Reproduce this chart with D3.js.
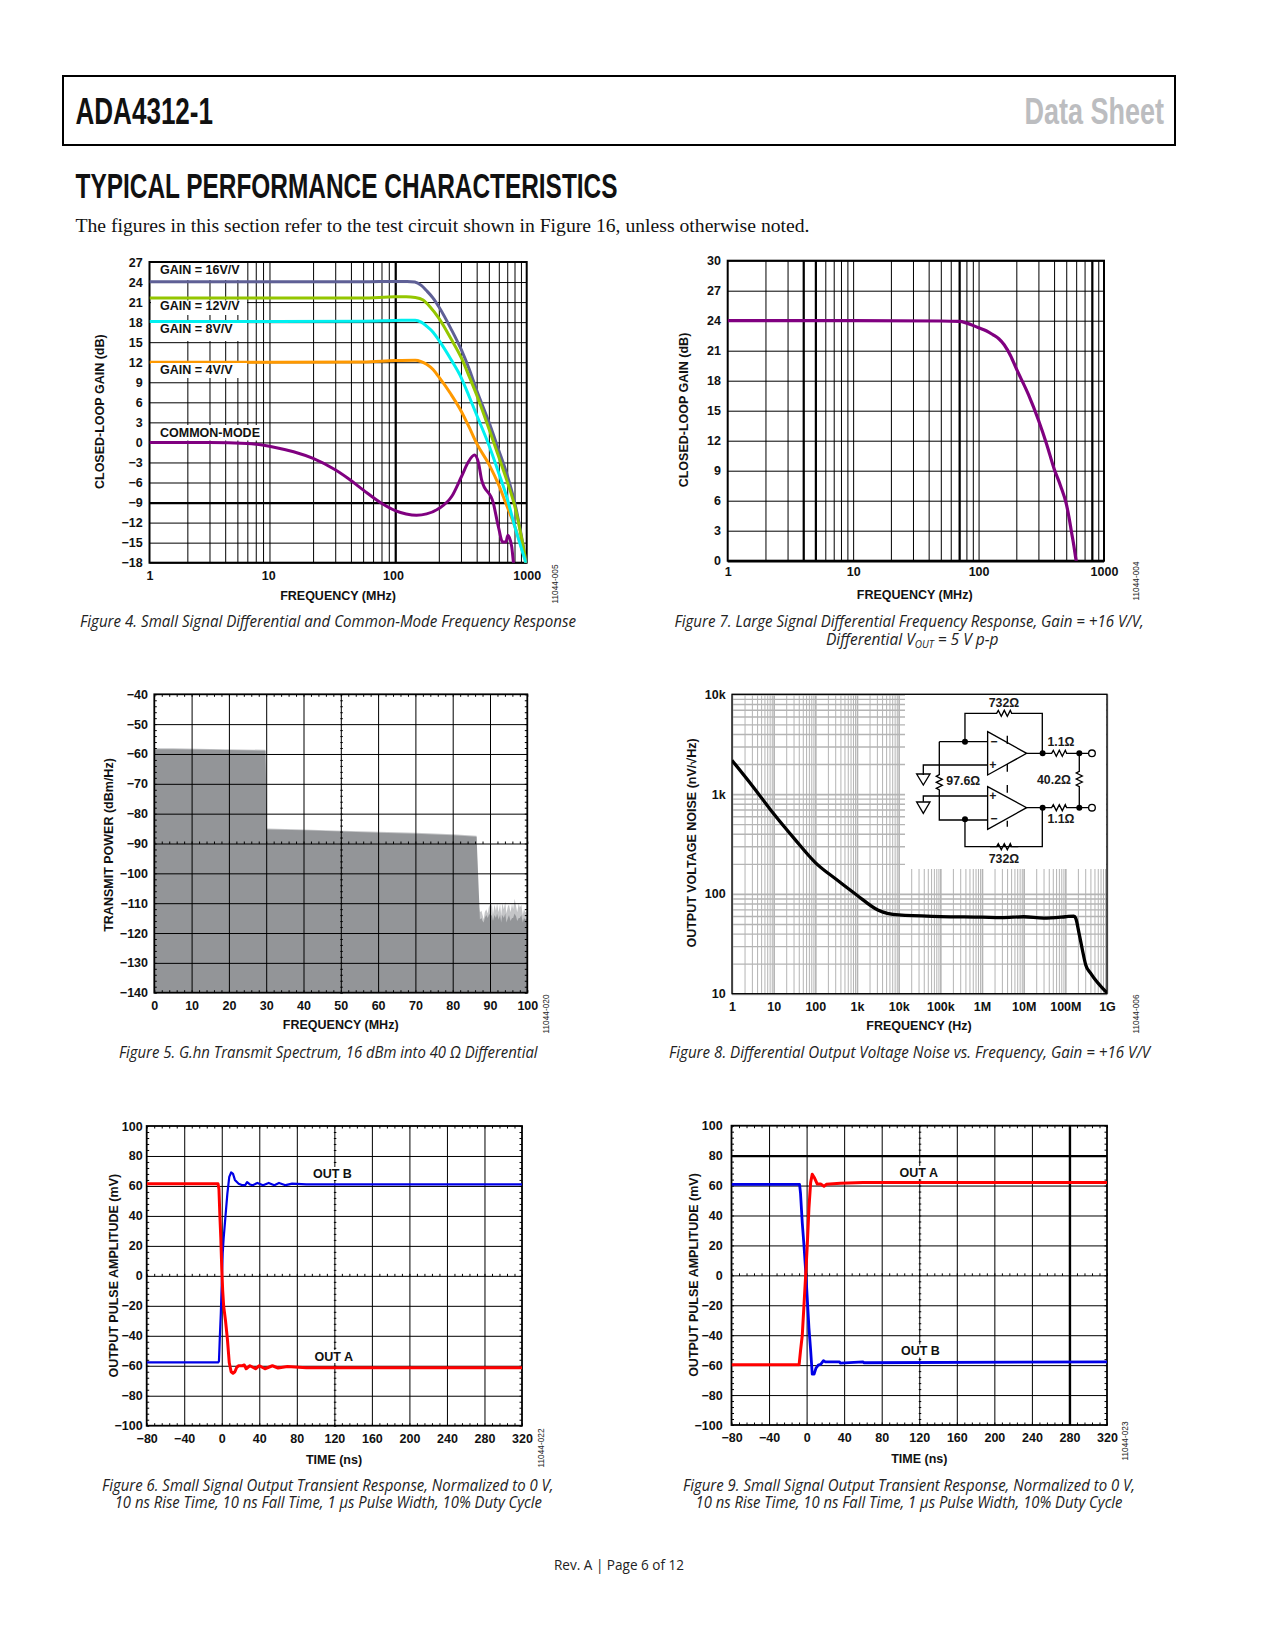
<!DOCTYPE html>
<html><head><meta charset="utf-8">
<script src="https://cdn.jsdelivr.net/npm/d3@7/dist/d3.min.js"></script>
<style>html,body{margin:0;background:#fff}svg{display:block}
.tk text,.lbl{font-size:12.5px;font-weight:700;fill:#111;font-family:"Liberation Sans",Arial,sans-serif}
.hd{font-family:"Liberation Sans",Arial,sans-serif;font-weight:700}
.body{font-family:"Liberation Serif",serif;font-size:18.5px;fill:#111}
.foot{font-family:"Open Sans",sans-serif;font-size:14px;fill:#222}
.id,.ckt{font-family:"Liberation Sans",Arial,sans-serif}
.cap{font-family:"Open Sans",sans-serif;font-style:italic;font-size:15.5px;fill:#222}
</style></head><body><svg id="p" width="1275" height="1650"></svg>
<script>
// ---------- Figure 4 data ----------
const fig4Freq16=[1,10,50,90,112,129,145,160,180,200,250,303,350,400,505,600,692,805,1000];
const fig4Gain16=[24.05,24.05,24.05,24.1,24.1,24.0,23.5,22.7,21.6,20.3,17,13.8,10.9,7.8,2.85,-1.2,-4.6,-9.1,-18.4];
const fig4Freq12=[1,10,50,90,110,130,150,170,200,250,303,350,400,505,600,692,805,1000];
const fig4Gain12=[21.6,21.6,21.6,21.8,21.8,21.7,21.3,20.3,18.6,15.5,12.6,9.8,7.1,1.85,-2.2,-5.6,-9.6,-18.4];
const fig4Freq8=[1,10,50,90,130,145,160,180,200,250,303,350,400,505,600,692,805,1000];
const fig4Gain8=[18.1,18.1,18.15,18.25,18.3,18,17.4,16.5,15.3,12.4,9.6,6.8,4.1,-0.6,-4.6,-8.1,-12.6,-18.4];
const fig4Freq4=[1,10,50,90,130,145,160,180,200,250,303,350,400,505,600,692,805,1000];
const fig4Gain4=[12,12,12.05,12.25,12.3,12.1,11.7,10.9,9.8,7.2,4.6,2.2,-0.15,-3.4,-6.4,-9.4,-12.6,-18.4];
const fig4FreqCM=[1,3,6,10,14,20,30,40,50,70,90,110,133,160,200,253,303,344,384,414,438,543,595,644,684,708,760,785,800];
const fig4GainCM=[0,0,-0.15,-0.75,-1.4,-2.4,-4.1,-5.7,-7.1,-9.1,-10.2,-10.7,-10.9,-10.7,-9.9,-8.1,-5.1,-2.9,-1.9,-3.1,-5.6,-9.1,-12.6,-14.9,-14.9,-13.9,-15.6,-18,-19];
const fig4GridX=[2,3,4,5,6,7,8,9,20,30,40,50,60,70,80,90,200,300,400,500,600,700,800,900];
// ---------- Figure 7 data ----------
const fig7Freq=[1,10,50,70,100,115,130,145,160,180,200,250,300,350,400,450,500,525,550,575,600,610];
const fig7Gain=[24,24,23.97,23.93,23.3,23.0,22.6,22.2,21.6,20.5,19.2,16.6,14.07,11.6,9.2,7.5,5.7,4.4,2.9,1.5,0,-0.4];
// ---------- Figure 5 data ----------
const fig5Freq=[0,0.3,5,15,29.8,30.2,40,50,60,70,80,86.4,86.7,87];
const fig5Peak=[-58.4,-58.1,-58.1,-58.3,-58.6,-85,-85.3,-85.7,-86.1,-86.4,-86.9,-87.4,-105,-111];
const fig5NoiseFreq=[87.3,87.7,88,88.3,88.6,89,89.4,89.8,90.1,90.5,90.8,91.2,91.6,91.9,92.3,92.7,93,93.3,93.7,94.1,94.4,94.8,95.1,95.5,95.9,96.2,96.6,97,97.3,97.7,98,98.4,98.8,99.1,99.5,100];
const fig5NoisePeak=[-113,-112.5,-114,-115.5,-113,-112,-113.5,-110.5,-112,-110,-114,-110.5,-112.5,-110,-113,-110.3,-114,-110,-112,-109.5,-113.5,-111,-110.5,-113,-110.2,-112,-108.5,-111,-113,-110,-111.5,-110.5,-114,-112,-113,-112.5];
const fig5NoiseBody=[-115.5,-115,-116,-116.5,-115,-114,-115,-113.5,-114.5,-114,-116,-114,-115,-113.5,-115.5,-114,-116.5,-114,-115,-113.5,-116.5,-115,-114,-116,-115,-115,-113.5,-114.5,-116,-115,-115,-114,-116.5,-115,-115.5,-115];
// ---------- Figure 8 data ----------
const fig8Freq=[1,3.16,10,31.6,100,316,1e3,3.16e3,1e4,1e5,1e6,3e6,1e7,3e7,1e8,1.6e8,1.78e8,2.14e8,2.57e8,3.09e8,4.07e8,1e9];
const fig8Noise=[2178,1194,635,356,206,140,97,69,61.5,59.3,58.4,57.8,59,57.2,59,60,57,40,27.4,19.4,16,10.2];
const fig8TickX=[1,10,100,1e3,1e4,1e5,1e6,1e7,1e8,1e9];
const fig8TickXLabels=["1","10","100","1k","10k","100k","1M","10M","100M","1G"];
// ---------- Figure 6 data ----------
const fig6TimeB=[-80,-4,-3,-2,-1,0,1,2,4,6,8,10,12,14,18,22,25,27,30,33,38,44,50,56,61,68,75,90,320];
const fig6OutB=[-57.8,-57.8,-57,-40,-25,-5,15,25,40,55,66,69,68,64,61.5,60.5,60.5,62.5,61,60.5,62,60.5,62,60.5,62,60.5,61.5,61,61];
const fig6TimeA=[-80,-4,-3,-2,-1,0,1,2,4,6,8,10,12,14,16,18,22,24,26,30,36,40,46,50,54,60,70,90,320];
const fig6OutA=[61.5,61.5,58,40,25,5,-10,-20,-30,-42,-58,-64,-65,-64,-61,-60,-60,-59.5,-62,-60,-62,-60,-62,-61,-60,-61.5,-60.5,-61.3,-61.3];
// ---------- Figure 9 data ----------
const fig9TimeB=[-80,-7.5,-6.5,-4.6,-2.8,-0.7,2.5,4.3,6,8,10,12.4,15,18,20,35,36,60,61,320];
const fig9OutB=[60.8,60.8,55,35,20,0,-35,-50,-66,-66,-62,-60,-59.5,-57,-57.8,-57.8,-58.6,-57.8,-58.4,-57.8];
const fig9TimeA=[-80,-8,-6.4,-4.6,-2.8,-1,0.7,2.5,4.3,6,8.5,11.4,15,18.5,21,36,60,320];
const fig9OutA=[-59.8,-59.8,-50,-40,-20,0,20,45,62,67.5,65,61,61,59.5,60.8,61.5,62,62];
// ---------- tick lists ----------
const logTicks1000=[1,10,100,1000];
const fig4TicksY=d3.range(-18,28,3), fig7TicksY=d3.range(0,31,3);
const fig5TicksX=d3.range(0,101,10), fig5TicksY=d3.range(-140,-39,10);
const pulseTicksX=d3.range(-80,321,40), pulseTicksY=d3.range(-100,101,20);
const fig8TicksY=[10,100,1000,10000], fig8LabelsY=["10","100","1k","10k"];

const svg=d3.select("#p");
const minus=v=>v<0?"\u2212"+Math.abs(v):String(v);
const series=(a,b)=>a.map((v,i)=>[v,b[i]]);
let clipN=0;

function panel(f){
  const w=f.r-f.l,h=f.b-f.t;
  const g=svg.append("g").attr("transform",`translate(${f.l},${f.t})`);
  const x=f.xs.range([0,w]),y=f.ys.range([h,0]);
  return {g,x,y,w,h};
}
function gridX(P,vals,o={}){
  const s=P.g.append("g").attr("transform",`translate(0,${P.h})`)
    .call(d3.axisBottom(P.x).tickValues(vals).tickSize(-P.h).tickFormat(""));
  s.select(".domain").remove(); s.selectAll("text").remove();
  s.selectAll("line").attr("stroke",o.c||"#000").attr("stroke-width",o.w||1);
  return s;
}
function gridY(P,vals,o={}){
  const s=P.g.append("g").call(d3.axisLeft(P.y).tickValues(vals).tickSize(-P.w).tickFormat(""));
  s.select(".domain").remove(); s.selectAll("text").remove();
  s.selectAll("line").attr("stroke",o.c||"#000").attr("stroke-width",o.w||1);
  return s;
}
function frame(P,w=2){P.g.append("rect").attr("width",P.w).attr("height",P.h).attr("fill","none").attr("stroke","#000").attr("stroke-width",w);}
function labelsX(P,vals,fmt,center,shift){
  const s=P.g.append("g").attr("class","tk").attr("transform",`translate(0,${P.h})`)
    .call(d3.axisBottom(P.x).tickValues(vals).tickSize(0).tickPadding(center-P.h-P.top-4.4).tickFormat(fmt));
  s.select(".domain").remove();
  if(shift) s.selectAll("text").attr("dx",d=>shift[d]||0);
}
function labelsY(P,vals,fmt,right){
  const s=P.g.append("g").attr("class","tk")
    .call(d3.axisLeft(P.y).tickValues(vals).tickSize(0).tickPadding(P.left-right).tickFormat(fmt));
  s.select(".domain").remove();
}
function titles(xt,xx,xy,yt,yx,yy,id,ix,iy){
  svg.append("text").attr("class","lbl").attr("x",xx).attr("y",xy+4.4).attr("text-anchor","middle").text(xt);
  svg.append("text").attr("class","lbl").attr("transform",`translate(${yx+4.4},${yy}) rotate(-90)`).attr("text-anchor","middle").text(yt);
  svg.append("text").attr("class","id").attr("transform",`translate(${ix+3},${iy}) rotate(-90)`).attr("text-anchor","middle").attr("font-size",8.3).attr("fill","#222").text(id);
}
function curve(P,data,color,width,cv){
  const id="c"+(++clipN);
  P.g.append("clipPath").attr("id",id).append("rect").attr("width",P.w).attr("height",P.h);
  P.g.append("path").attr("clip-path",`url(#${id})`).attr("d",d3.line().x(d=>P.x(d[0])).y(d=>P.y(d[1])).curve(cv||d3.curveMonotoneX)(data))
    .attr("fill","none").attr("stroke",color).attr("stroke-width",width).attr("stroke-linejoin","round");
}
function minorTicks(P,xv,yv,xc,yc,len){
  const mk=(gen,tr)=>{const s=P.g.append("g").attr("transform",tr).call(gen);s.select(".domain").remove();s.selectAll("text").remove();s.selectAll("line").attr("stroke","#000").attr("stroke-width",1);return s;};
  mk(d3.axisBottom(P.x).tickValues(xv).tickSize(-len).tickFormat(""),`translate(0,${P.h})`);
  mk(d3.axisTop(P.x).tickValues(xv).tickSize(-len).tickFormat(""),`translate(0,0)`);
  mk(d3.axisLeft(P.y).tickValues(yv).tickSize(-len).tickFormat(""),`translate(0,0)`);
  mk(d3.axisRight(P.y).tickValues(yv).tickSize(-len).tickFormat(""),`translate(${P.w},0)`);
  mk(d3.axisBottom(P.x).tickValues(xv).tickSize(len).tickFormat(""),`translate(0,${P.y(yc)-2})`);
  mk(d3.axisLeft(P.y).tickValues(yv).tickSize(len).tickFormat(""),`translate(${P.x(xc)+2},0)`);
}
function mk(f){const P=panel(f);P.top=0;P.left=0;return P;}
function plotLabel(t,x,y,w){
  if(w) svg.append("rect").attr("x",x-3).attr("y",y-6.5).attr("width",w).attr("height",13).attr("fill","#fff");
  svg.append("text").attr("class","lbl").attr("x",x).attr("y",y+4.4).text(t);
}
function txt(t,x,y,cls,o){const s=svg.append("text").attr("class",cls).attr("x",x).attr("y",y).text(t);for(const k in o)s.attr(k,o[k]);return s;}
function cap(t,x0,x1,y){svg.append("text").attr("class","cap").attr("x",x0).attr("y",y).attr("textLength",x1-x0).attr("lengthAdjust","spacingAndGlyphs").text(t);}

// ---------- page ----------
svg.append("rect").attr("x",63).attr("y",76).attr("width",1112).attr("height",69).attr("fill","none").attr("stroke","#000").attr("stroke-width",2);
txt("ADA4312-1",75.5,123.5,"hd",{"font-size":37,textLength:137.5,lengthAdjust:"spacingAndGlyphs",fill:"#111"});
txt("Data Sheet",1024.5,123.5,"hd",{"font-size":37,textLength:139.5,lengthAdjust:"spacingAndGlyphs",fill:"#bcbdc0"});
txt("TYPICAL PERFORMANCE CHARACTERISTICS",75.5,198,"hd",{"font-size":35,textLength:542,lengthAdjust:"spacingAndGlyphs",fill:"#111"});
txt("The figures in this section refer to the test circuit shown in Figure 16, unless otherwise noted.",75.5,232,"body",{textLength:734,lengthAdjust:"spacingAndGlyphs"});
txt("Rev. A | Page 6 of 12",554,1570,"foot",{textLength:130,lengthAdjust:"spacingAndGlyphs"});

// ---------- Figure 4 ----------
{
  const P=mk({l:149.5,r:526.7,t:262,b:562.7,xs:d3.scaleLog().domain([1,1000]),ys:d3.scaleLinear().domain([-18,27])});
  gridX(P,fig4GridX); gridX(P,[90],{w:2.2});
  gridY(P,fig4TicksY); gridY(P,[-9],{w:2.2});
  [[263,280,247],[300.5,315,247],[323,341,247],[363,378,247],[425,440.5,263]].forEach(([a,b,r])=>
    svg.append("rect").attr("x",151).attr("y",a).attr("width",r-151).attr("height",b-a).attr("fill","#fff"));
  frame(P);
  curve(P,series(fig4Freq4,fig4Gain4),"#ff9900",3);
  curve(P,series(fig4Freq16,fig4Gain16),"#5f6096",3);
  curve(P,series(fig4Freq12,fig4Gain12),"#94c600",3);
  curve(P,series(fig4Freq8,fig4Gain8),"#00f0f0",3);
  curve(P,series(fig4FreqCM,fig4GainCM),"#800080",3);
  [["GAIN = 16V/V",270],["GAIN = 12V/V",306],["GAIN = 8V/V",329],["GAIN = 4V/V",370],["COMMON-MODE",432.7]].forEach(d=>plotLabel(d[0],160,d[1]));
  P.top=262;P.left=149.5;
  labelsX(P,logTicks1000,d=>d,575.7,{10:-7,100:-8});
  labelsY(P,fig4TicksY,minus,142.7);
  titles("FREQUENCY (MHz)",338,596,"CLOSED-LOOP GAIN (dB)",100,411.7,"11044-005",555,584);
  cap("Figure 4. Small Signal Differential and Common-Mode Frequency Response",80,576,626.5);
}
// ---------- Figure 7 ----------
{
  const P=mk({l:727.7,r:1104,t:260.7,b:560.7,xs:d3.scaleLog().domain([1,1000]),ys:d3.scaleLinear().domain([0,30])});
  const d=[1,10,100].flatMap(k=>d3.range(1,10).map(m=>m*k)).filter(v=>v>1);
  gridX(P,d); gridX(P,[4,5,70,800],{w:2.2});
  gridY(P,fig7TicksY);
  frame(P); gridY(P,[0],{w:2.4});
  curve(P,series(fig7Freq,fig7Gain),"#800080",3.2);
  P.top=260.7;P.left=727.7;
  labelsX(P,logTicks1000,d=>d,571.7);
  labelsY(P,fig7TicksY,d=>d,721);
  titles("FREQUENCY (MHz)",914.7,594.3,"CLOSED-LOOP GAIN (dB)",683.3,410,"11044-004",1136,581);
  cap("Figure 7. Large Signal Differential Frequency Response, Gain = +16 V/V,",674.5,1143.7,627);
  const l=svg.append("text").attr("class","cap").attr("x",826).attr("y",645);
  l.append("tspan").text("Differential V");
  l.append("tspan").attr("dy",3).attr("font-size",10).text("OUT");
  l.append("tspan").attr("dy",-3).text(" = 5 V p-p");
}
// ---------- Figure 5 ----------
{
  const P=mk({l:154.3,r:527.3,t:694.3,b:992.7,xs:d3.scaleLinear().domain([0,100]),ys:d3.scaleLinear().domain([-140,-40])});
  const peak=series(fig5Freq,fig5Peak).concat(series(fig5NoiseFreq,fig5NoisePeak));
  const body=series(fig5Freq.slice(0,12),fig5Peak.slice(0,12).map(v=>v-0.3)).concat(series(fig5NoiseFreq,fig5NoiseBody));
  const area=d3.area().x(d=>P.x(d[0])).y1(d=>P.y(d[1])).y0(P.h);
  P.g.append("path").attr("d",area(peak)).attr("fill","#c4c5c7");
  P.g.append("path").attr("d",area(body)).attr("fill","#939598");
  gridX(P,fig5TicksX.filter(v=>v>0&&v<100));
  gridY(P,fig5TicksY.filter(v=>v>-140&&v<-40));
  minorTicks(P,d3.range(0,101,2),d3.range(-140,-39,2),50,-90,2.5);
  frame(P,1.8);
  P.top=694.3;P.left=154.3;
  labelsX(P,fig5TicksX,d=>d,1005.7);
  labelsY(P,fig5TicksY,minus,148);
  titles("FREQUENCY (MHz)",340.7,1024.5,"TRANSMIT POWER (dBm/Hz)",108.3,845,"11044-020",546,1014);
  cap("Figure 5. G.hn Transmit Spectrum, 16 dBm into 40 \u03A9 Differential",119,537.6,1058);
}
// ---------- Figure 8 ----------
{
  const P=mk({l:732,r:1107,t:694.3,b:993.7,xs:d3.scaleLog().domain([1,1e9]),ys:d3.scaleLog().domain([10,1e4])});
  const minorX=fig8TickX.slice(0,-1).flatMap(k=>d3.range(2,10).map(m=>m*k));
  const minorY=fig8TicksY.slice(0,-1).flatMap(k=>d3.range(2,10).map(m=>m*k));
  gridX(P,minorX,{c:"#b4b4b4",w:1}); gridX(P,fig8TickX,{c:"#b4b4b4",w:1.6});
  gridY(P,minorY,{c:"#b4b4b4",w:1.4}); gridY(P,fig8TicksY,{c:"#b4b4b4",w:1.9});
  svg.append("rect").attr("x",905).attr("y",695).attr("width",201).attr("height",174).attr("fill","#fff");
  frame(P,1.3);
  curve(P,series(fig8Freq,fig8Noise),"#000",3.3,d3.curveMonotoneX);
  P.top=694.3;P.left=732;
  const ixs=Object.fromEntries(fig8TickX.map((v,i)=>[v,fig8TickXLabels[i]]));
  const iys=Object.fromEntries(fig8TicksY.map((v,i)=>[v,fig8LabelsY[i]]));
  labelsX(P,fig8TickX,d=>ixs[d],1006.7);
  labelsY(P,fig8TicksY,d=>iys[d],725.7);
  titles("FREQUENCY (Hz)",919,1026,"OUTPUT VOLTAGE NOISE (nV/\u221AHz)",691.7,843,"11044-006",1136,1014);
  cap("Figure 8. Differential Output Voltage Noise vs. Frequency, Gain = +16 V/V",669,1150,1058);
  // test circuit inset
  const c=svg.append("g").attr("class","ckt").attr("transform","translate(660,670) scale(0.3333)").attr("fill","none").attr("stroke","#000").attr("stroke-width",4);
  const zzV=()=>`l-9,5 l18,9 l-18,9 l18,9 l-18,9 l9,5`;
  [`M915,215V130H1010l5,-9 9,18 9,-18 9,18 9,-18 4,9H1147V250`,
   `M983,185L1100,250L983,315Z`,`M1042,197V222M1042,282V305`,
   `M838,215H983M838,215V314${zzV()}V450H983`,
   `M790,315V285H983M790,395V378H983`,
   `M770,312H810L790,345ZM770,396H810L790,430Z`,
   `M983,350L1100,413L983,478Z`,`M1042,345V368M1042,452V470`,
   `M1100,250H1175l5,-9 9,18 9,-18 9,18 9,-18 4,9H1285`,
   `M1100,413H1175l5,-9 9,18 9,-18 9,18 9,-18 4,9H1285`,
   `M915,448V530H1147V413`,`M990,530H1010l5,-9 9,18 9,-18 9,18 9,-18 4,9H1075`,
   `M1258,250V304${zzV()}V413`].forEach(d=>c.append("path").attr("d",d));
  [[915,215],[915,448],[1148,250],[1258,250],[1148,413],[1258,413]].forEach(p=>c.append("circle").attr("cx",p[0]).attr("cy",p[1]).attr("r",9).attr("fill","#000").attr("stroke","none"));
  [[1296,250],[1296,413]].forEach(p=>c.append("circle").attr("cx",p[0]).attr("cy",p[1]).attr("r",10).attr("fill","#fff"));
  [["732\u03A9",1032,98],["1.1\u03A9",1203,216],["97.6\u03A9",910,333],["40.2\u03A9",1182,330],["1.1\u03A9",1203,445],["732\u03A9",1032,567],["+",999,285],["\u2212",1002,215],["+",999,378],["\u2212",1002,447]].forEach(d=>
    c.append("text").attr("x",d[1]).attr("y",d[2]+13).attr("text-anchor","middle").attr("font-size",37).attr("font-weight",700).attr("fill","#1a1a1a").attr("stroke","none").text(d[0]));
}
// ---------- Figures 6 and 9 ----------
function pulse(f,o){
  const P=mk({...f,xs:d3.scaleLinear().domain([-80,320]),ys:d3.scaleLinear().domain([-100,100])});
  gridX(P,pulseTicksX.filter(v=>v>-80&&v<320));
  gridY(P,pulseTicksY.filter(v=>v>-100&&v<100));
  if(o.thick){gridX(P,[280],{w:2.4});gridY(P,[80],{w:2.4});}
  minorTicks(P,d3.range(-80,321,8),d3.range(-100,101,4),120,0,2.5);
  frame(P,1.8);
  curve(P,o.blue,"#0000e6",o.bw,d3.curveLinear);
  curve(P,o.red,"#ff0000",o.rw,d3.curveLinear);
  P.top=f.t;P.left=f.l;
  labelsX(P,pulseTicksX,minus,o.xc);
  labelsY(P,pulseTicksY,minus,o.yr);
  return P;
}
pulse({l:146.7,r:522,t:1126,b:1425.7},{blue:series(fig6TimeB,fig6OutB),red:series(fig6TimeA,fig6OutA),bw:2.2,rw:3,xc:1439,yr:142.7});
titles("TIME (ns)",334,1460,"OUTPUT PULSE AMPLITUDE (mV)",113.3,1275.7,"11044-022",541,1448);
plotLabel("OUT B",313,1173.5,46);plotLabel("OUT A",314.5,1356.5,46);
cap("Figure 6. Small Signal Output Transient Response, Normalized to 0 V,",102,553.5,1490.5);
cap("10 ns Rise Time, 10 ns Fall Time, 1 \u00B5s Pulse Width, 10% Duty Cycle",114.7,542,1508);
pulse({l:731.5,r:1107,t:1125.7,b:1425},{thick:true,blue:series(fig9TimeB,fig9OutB),red:series(fig9TimeA,fig9OutA),bw:2.8,rw:3,xc:1437.7,yr:722.7});
titles("TIME (ns)",919.3,1458.7,"OUTPUT PULSE AMPLITUDE (mV)",693.3,1275,"11044-023",1125,1441);
plotLabel("OUT A",899.5,1172.5,46);plotLabel("OUT B",901,1351,46);
cap("Figure 9. Small Signal Output Transient Response, Normalized to 0 V,",683,1135,1490.5);
cap("10 ns Rise Time, 10 ns Fall Time, 1 \u00B5s Pulse Width, 10% Duty Cycle",695.5,1122.5,1508);
</script></body></html>
